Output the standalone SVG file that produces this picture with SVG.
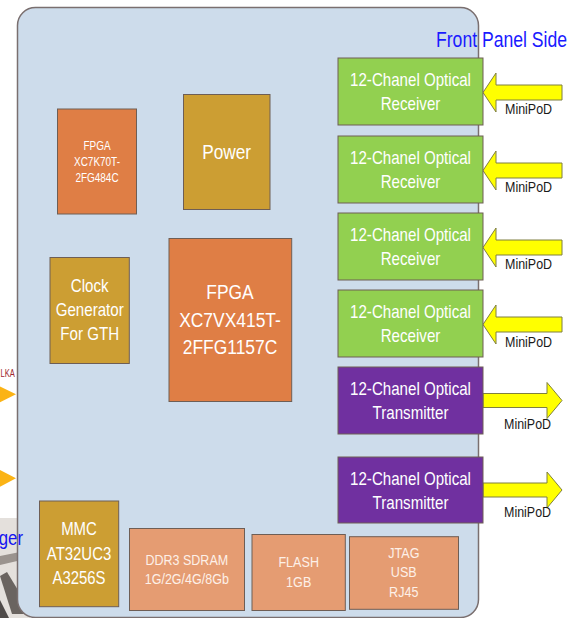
<svg xmlns="http://www.w3.org/2000/svg" xmlns:xlink="http://www.w3.org/1999/xlink" width="568" height="618" viewBox="0 0 568 618">
<style>
text{font-family:"Liberation Sans",Arial,sans-serif}
.t{fill:#ffffff;text-anchor:middle}
.ts{fill:#fdf0e8;text-anchor:middle;font-size:15px}
.box{stroke:#6e5e55;stroke-width:1}
.gold{fill:#cc9e33}
.org{fill:#df7e45}
.sal{fill:#e59c72}
.grn{fill:#92d050}
.pur{fill:#7030a0}
.arr{fill:#ffff00;stroke:#7f7f40;stroke-width:1}
.mp{font-size:14px;fill:#1a1a1a}
.tri{fill:#fbb315}
</style>
<defs>
<polygon id="rx" points="0,0 13,-19.5 13,-7.5 79,-7.5 79,7.5 13,7.5 13,19.5"/>
<polygon id="tx" points="0,-7 64,-7 64,-18 79,0 64,18 64,7 0,7"/>
</defs>
<rect width="568" height="618" fill="#ffffff"/>
<g id="photo">
<rect x="0" y="518" width="30" height="100" fill="#e4e0dc"/>
<polygon points="0,556 30,550 30,558 0,565" fill="#9a938e"/>
<polygon points="0,576 7,572 24,600 24,614 12,614" fill="#6a6460"/>
<polygon points="0,600 9,618 0,618" fill="#4e4a48"/>
</g>
<g id="left-signals">
<polygon class="tri" points="0,386.5 16,394.3 0,402.3"/>
<polygon class="tri" points="0,470 16,478.3 0,486.7"/>
<text transform="translate(0.5 376.5) scale(0.76 1)" x="0" y="0" font-size="10" fill="#a0282d">LKA</text>
</g>
<g id="board">
<rect x="17.5" y="7.5" width="461" height="610" rx="18" fill="#cddceb" stroke="#7a6f6f" stroke-width="1.5"/>
</g>
<g id="ger-label">
<text transform="translate(23 545) scale(0.84 1)" x="0" y="0" font-size="20" fill="#1414f0" text-anchor="end">ger</text>
</g>
<g id="front-panel-label">
<text transform="translate(436 47) scale(0.8 1)" x="0" y="0" font-size="22" fill="#1a1aff">Front Panel Side</text>
</g>
<g id="connectors">
<use xlink:href="#rx" class="arr" x="483" y="92.5"/>
<use xlink:href="#rx" class="arr" x="483" y="170.5"/>
<use xlink:href="#rx" class="arr" x="483" y="247.5"/>
<use xlink:href="#rx" class="arr" x="483" y="324.5"/>
<use xlink:href="#tx" class="arr" x="483" y="400.5"/>
<use xlink:href="#tx" class="arr" x="483" y="490"/>
<text class="mp" transform="translate(505 114) scale(0.89 1)">MiniPoD</text>
<text class="mp" transform="translate(505 191.5) scale(0.89 1)">MiniPoD</text>
<text class="mp" transform="translate(505 269) scale(0.89 1)">MiniPoD</text>
<text class="mp" transform="translate(505 346.5) scale(0.89 1)">MiniPoD</text>
<text class="mp" transform="translate(504 428.5) scale(0.89 1)">MiniPoD</text>
<text class="mp" transform="translate(504 516.5) scale(0.89 1)">MiniPoD</text>
</g>
<g id="fpga-small">
<rect class="box org" x="57.5" y="109" width="79" height="105"/>
<g transform="translate(97 0) scale(0.83 1)"><text class="t" font-size="12"><tspan x="0" y="150">FPGA</tspan><tspan x="0" y="165.7">XC7K70T-</tspan><tspan x="0" y="181.7">2FG484C</tspan></text></g>
</g>
<g id="power">
<rect class="box gold" x="183.5" y="94.5" width="86.5" height="115"/>
<g transform="translate(226.7 0) scale(0.82 1)"><text class="t" font-size="21" x="0" y="159">Power</text></g>
</g>
<g id="clock">
<rect class="box gold" x="50" y="257.5" width="79.3" height="106"/>
<g transform="translate(89.7 0) scale(0.84 1)"><text class="t" font-size="18"><tspan x="0" y="291.7">Clock</tspan><tspan x="0" y="316">Generator</tspan><tspan x="0" y="340.5">For GTH</tspan></text></g>
</g>
<g id="fpga-main">
<rect class="box org" x="169" y="238.5" width="122.7" height="163"/>
<g transform="translate(230 0) scale(0.83 1)"><text class="t" font-size="21"><tspan x="0" y="299.3">FPGA</tspan><tspan x="0" y="326.7">XC7VX415T-</tspan><tspan x="0" y="354">2FFG1157C</tspan></text></g>
</g>
<g id="mmc">
<rect class="box gold" x="39.5" y="501" width="79.2" height="105.7"/>
<g transform="translate(79 0) scale(0.83 1)"><text class="t" font-size="18"><tspan x="0" y="535">MMC</tspan><tspan x="0" y="560">AT32UC3</tspan><tspan x="0" y="584.3">A3256S</tspan></text></g>
</g>
<g id="ddr3">
<rect class="box sal" x="129.5" y="528.5" width="115" height="82"/>
<g transform="translate(186.8 0) scale(0.835 1)"><text class="ts"><tspan x="0" y="565">DDR3 SDRAM</tspan><tspan x="0" y="584.5">1G/2G/4G/8Gb</tspan></text></g>
</g>
<g id="flash">
<rect class="box sal" x="252" y="534.5" width="93.3" height="76"/>
<g transform="translate(298.7 0) scale(0.84 1)"><text class="ts"><tspan x="0" y="567.3">FLASH</tspan><tspan x="0" y="587.3">1GB</tspan></text></g>
</g>
<g id="jtag">
<rect class="box sal" x="349.5" y="536.7" width="109" height="72.6"/>
<g transform="translate(403.8 0) scale(0.84 1)"><text class="ts"><tspan x="0" y="557.7">JTAG</tspan><tspan x="0" y="577.3">USB</tspan><tspan x="0" y="597.3">RJ45</tspan></text></g>
</g>
<g id="rx1">
<rect class="box grn" x="338" y="58" width="145" height="67"/>
<g transform="translate(410.5 0) scale(0.84 1)"><text class="t" font-size="18"><tspan x="0" y="86">12-Chanel Optical</tspan><tspan x="0" y="110">Receiver</tspan></text></g>
</g>
<g id="rx2">
<rect class="box grn" x="338" y="136" width="145" height="67"/>
<g transform="translate(410.5 0) scale(0.84 1)"><text class="t" font-size="18"><tspan x="0" y="164">12-Chanel Optical</tspan><tspan x="0" y="188">Receiver</tspan></text></g>
</g>
<g id="rx3">
<rect class="box grn" x="338" y="213" width="145" height="67"/>
<g transform="translate(410.5 0) scale(0.84 1)"><text class="t" font-size="18"><tspan x="0" y="241">12-Chanel Optical</tspan><tspan x="0" y="265">Receiver</tspan></text></g>
</g>
<g id="rx4">
<rect class="box grn" x="338" y="290" width="145" height="67"/>
<g transform="translate(410.5 0) scale(0.84 1)"><text class="t" font-size="18"><tspan x="0" y="318">12-Chanel Optical</tspan><tspan x="0" y="342">Receiver</tspan></text></g>
</g>
<g id="tx1">
<rect class="box pur" x="338" y="367" width="145" height="67"/>
<g transform="translate(410.5 0) scale(0.84 1)"><text class="t" font-size="18"><tspan x="0" y="395">12-Chanel Optical</tspan><tspan x="0" y="419">Transmitter</tspan></text></g>
</g>
<g id="tx2">
<rect class="box pur" x="338" y="457" width="145" height="66"/>
<g transform="translate(410.5 0) scale(0.84 1)"><text class="t" font-size="18"><tspan x="0" y="485">12-Chanel Optical</tspan><tspan x="0" y="509">Transmitter</tspan></text></g>
</g>
</svg>
